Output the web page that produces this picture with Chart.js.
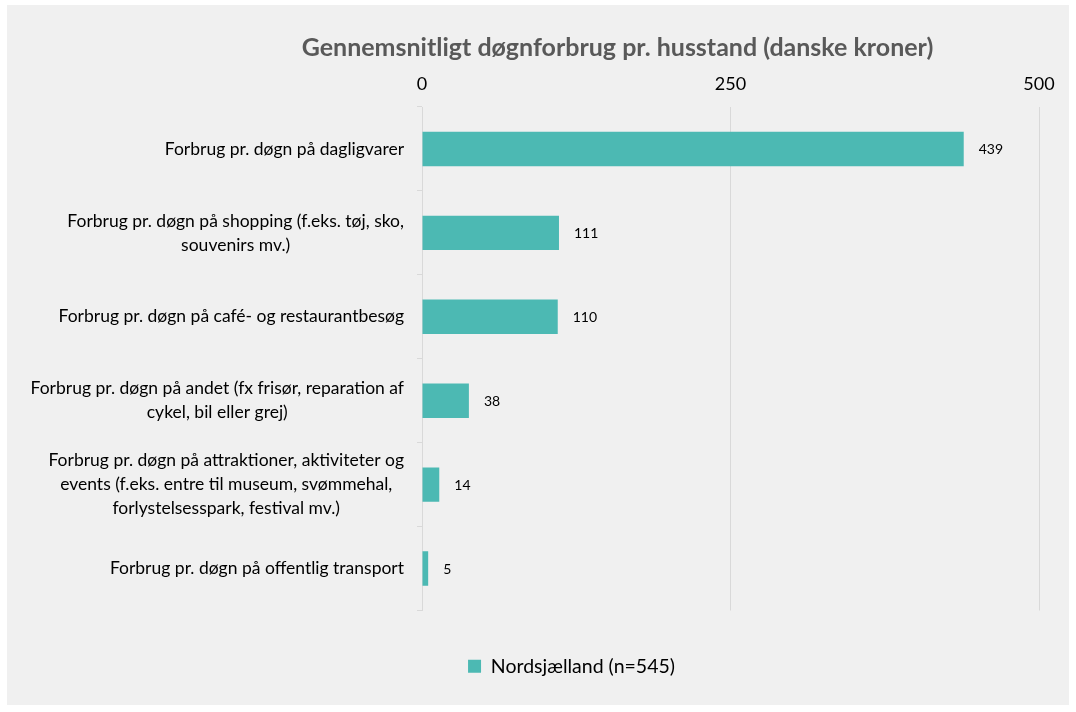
<!DOCTYPE html>
<html>
<head>
<meta charset="utf-8">
<script src="https://cdn.jsdelivr.net/npm/chart.js@4"></script>
<style>
  html, body { margin: 0; padding: 0; background: #ffffff; }
  #wrap { width: 1076px; height: 712px; }
</style>
</head>
<body>
<div id="wrap"><canvas id="mychart" width="1076" height="712"></canvas></div>
<script>
// data
let categories = [
  ["Forbrug pr. døgn på dagligvarer"],
  ["Forbrug pr. døgn på shopping (f.eks. tøj, sko,", "souvenirs mv.)"],
  ["Forbrug pr. døgn på café- og restaurantbesøg"],
  ["Forbrug pr. døgn på andet (fx frisør, reparation af", "cykel, bil eller grej)"],
  ["Forbrug pr. døgn på attraktioner, aktiviteter og", "events (f.eks. entre til museum, svømmehal,", "forlystelsesspark, festival mv.)"],
  ["Forbrug pr. døgn på offentlig transport"]
];
let values = [439, 111, 110, 38, 14, 5];
let xTicks = [0, 250, 500];
let seriesName = "Nordsjælland (n=545)";
let chartTitle = "Gennemsnitligt døgnforbrug pr. husstand (danske kroner)";

let FONT = "Lato, 'Open Sans', sans-serif";
let teal = "#4cb9b3";

// grey panel behind the chart
let panel = {
  id: "panel",
  beforeDraw(chart) {
    let ctx = chart.ctx;
    ctx.save();
    ctx.fillStyle = "#f0f0f0";
    ctx.fillRect(7, 5, 1062, 700);
    ctx.restore();
  }
};

// move title and legend to where the reference has them
let shift = {
  id: "shift",
  afterLayout(chart) {
    let t = chart.titleBlock;
    if (t) { t.left += 196; }
    let l = chart.legend;
    if (l) {
      l.left += 104;
      let h = l.bottom - l.top;
      l.top = chart.chartArea.bottom + 36;
      l.bottom = l.top + h;
    }
  }
};

// category labels (centered lines, right-aligned block) and value labels
let labels = {
  id: "labels",
  afterDatasetsDraw(chart) {
    let ctx = chart.ctx;
    let yScale = chart.scales.y;
    ctx.save();
    ctx.font = "17.5px " + FONT;
    ctx.fillStyle = "#000000";
    ctx.textBaseline = "middle";
    ctx.textAlign = "center";
    categories.forEach((lines, i) => {
      let cy = yScale.getPixelForValue(i);
      let w = Math.max(...lines.map((s) => ctx.measureText(s).width));
      let cx = yScale.right - 18 - w / 2;
      let lh = 24;
      lines.forEach((s, j) => {
        ctx.fillText(s, cx, cy + (j - (lines.length - 1) / 2) * lh);
      });
    });
    ctx.font = "14px " + FONT;
    ctx.textAlign = "left";
    let meta = chart.getDatasetMeta(0);
    meta.data.forEach((bar, i) => {
      ctx.fillText(String(values[i]), bar.x + 15, bar.y + 1);
    });
    ctx.restore();
  }
};

let mychart = document.getElementById("mychart").getContext("2d");

let chart = new Chart(mychart, {
  type: "bar",
  data: {
    labels: categories,
    datasets: [
      {
        label: seriesName,
        data: values,
        backgroundColor: teal,
        barPercentage: 0.41,
        categoryPercentage: 1,
      },
    ],
  },
  options: {
    indexAxis: "y",
    responsive: false,
    animation: false,
    layout: { padding: { left: 0, right: 37, top: 0, bottom: 62 } },
    scales: {
      x: {
        position: "top",
        min: 0,
        max: 500,
        afterBuildTicks: (scale) => {
          scale.ticks = xTicks.map((v) => ({ value: v }));
        },
        afterFit: (scale) => {
          scale.height = 44;
        },
        grid: { color: "#d9d9d9", lineWidth: 1, drawTicks: false },
        border: { display: false },
        ticks: {
          color: "#000000",
          padding: 12,
          font: { family: FONT, size: 18 },
          maxRotation: 0,
        },
      },
      y: {
        afterFit: (scale) => {
          scale.width = 422;
        },
        grid: {
          drawOnChartArea: false,
          color: "#d9d9d9",
          tickLength: 5,
        },
        border: { color: "#d9d9d9", width: 1 },
        ticks: { color: "transparent", font: { family: FONT, size: 15 } },
      },
    },
    plugins: {
      title: {
        display: true,
        text: chartTitle,
        color: "#595959",
        font: { family: FONT, size: 25, weight: "bold" },
        padding: { top: 33, bottom: 0 },
      },
      legend: {
        position: "bottom",
        labels: {
          color: "#000000",
          font: { family: FONT, size: 19.5 },
          boxWidth: 13,
          boxHeight: 13,
          padding: 10,
        },
      },
      tooltip: { enabled: false },
    },
  },
  plugins: [panel, shift, labels],
});
</script>
</body>
</html>
